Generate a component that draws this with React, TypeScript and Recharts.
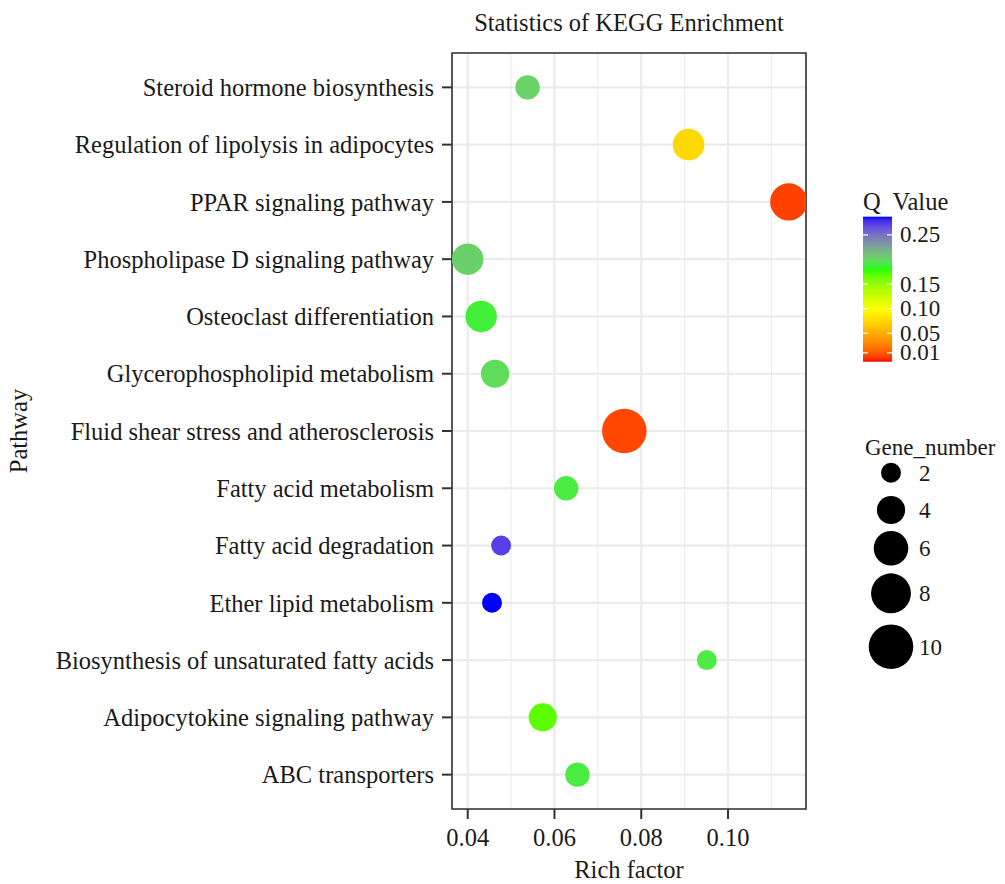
import {
    ScatterChart,
    Scatter,
    XAxis,
    YAxis,
    ZAxis,
    CartesianGrid,
    ReferenceArea,
    Cell,
} from 'recharts'

// pathways listed from the bottom row up
const pathways = [
    'ABC transporters',
    'Adipocytokine signaling pathway',
    'Biosynthesis of unsaturated fatty acids',
    'Ether lipid metabolism',
    'Fatty acid degradation',
    'Fatty acid metabolism',
    'Fluid shear stress and atherosclerosis',
    'Glycerophospholipid metabolism',
    'Osteoclast differentiation',
    'Phospholipase D signaling pathway',
    'PPAR signaling pathway',
    'Regulation of lipolysis in adipocytes',
    'Steroid hormone biosynthesis',
]
const richFactor = [0.0653, 0.0573, 0.0951, 0.0456, 0.0477, 0.0627, 0.0761, 0.0463, 0.0431, 0.04, 0.114, 0.0909, 0.0538]
const geneNumber = [3, 4, 2, 2, 2, 3, 10, 4, 5, 5, 7, 5, 3]
const qValue = [0.19, 0.169, 0.191, 0.287, 0.272, 0.19, 0.004, 0.198, 0.188, 0.204, 0.002, 0.075, 0.203]

const xTicks = [0.04, 0.06, 0.08, 0.1]
const xMinorTicks = [0.05, 0.07, 0.09, 0.11]
const xDomain: [number, number] = [0.03638, 0.11797]
const qTicks = [0.01, 0.05, 0.1, 0.15, 0.25]
const qLimits: [number, number] = [-0.008, 0.287]
const geneLegend = [2, 4, 6, 8, 10]

const rampColors = ['#FF0000', '#FFA500', '#FFFF00', '#00FF00', '#0000FF']
const rampPos = [0, 0.18, 0.36, 0.64, 1]

const FONT = '"Times New Roman", "Liberation Serif", serif'
const TEXT = '#1a1a1a'
const FS = 24.5

// colour ramp interpolated in Lab, like ggplot's gradientn
const lin = (c: number) => {
    c /= 255
    return c <= 0.04045 ? c / 12.92 : Math.pow((c + 0.055) / 1.055, 2.4)
}
const f = (t: number) => (t > 0.008856 ? Math.cbrt(t) : 7.787 * t + 16 / 116)
const finv = (t: number) => (t * t * t > 0.008856 ? t * t * t : (t - 16 / 116) / 7.787)

function toLab(hex: string) {
    const n = parseInt(hex.slice(1), 16)
    const r = lin((n >> 16) & 255), g = lin((n >> 8) & 255), b = lin(n & 255)
    const X = (0.4124 * r + 0.3576 * g + 0.1805 * b) / 0.95047
    const Y = 0.2126 * r + 0.7152 * g + 0.0722 * b
    const Z = (0.0193 * r + 0.1192 * g + 0.9505 * b) / 1.08883
    return [116 * f(Y) - 16, 500 * (f(X) - f(Y)), 200 * (f(Y) - f(Z))]
}

function fromLab([L, a, bb]: number[]) {
    const fy = (L + 16) / 116
    const X = 0.95047 * finv(fy + a / 500)
    const Y = finv(fy)
    const Z = 1.08883 * finv(fy - bb / 200)
    const rgb = [
        3.2406 * X - 1.5372 * Y - 0.4986 * Z,
        -0.9689 * X + 1.8758 * Y + 0.0415 * Z,
        0.0557 * X - 0.204 * Y + 1.057 * Z,
    ].map((c) => {
        const v = c <= 0.0031308 ? 12.92 * c : 1.055 * Math.pow(c, 1 / 2.4) - 0.055
        return Math.round(Math.min(1, Math.max(0, v)) * 255)
    })
    return '#' + rgb.map((v) => v.toString(16).padStart(2, '0')).join('')
}

function rampColor(t: number) {
    t = Math.min(1, Math.max(0, t))
    let i = 0
    while (i < rampPos.length - 2 && t > rampPos[i + 1]) i++
    const s = (t - rampPos[i]) / (rampPos[i + 1] - rampPos[i])
    const a = toLab(rampColors[i]), b = toLab(rampColors[i + 1])
    return fromLab(a.map((v, k) => v + (b[k] - v) * s))
}

const qColor = (q: number) => rampColor((q - qLimits[0]) / (qLimits[1] - qLimits[0]))

// bubble area proportional to gene count
const radiusOf = (n: number) => Math.sqrt(49.7 * n)

const points = pathways.map((name, i) => ({
    name,
    idx: i,
    rich: richFactor[i],
    genes: geneNumber[i],
    color: qColor(qValue[i]),
}))

// legend placement
const BAR = { x: 863, y: 216.7, w: 29, h: 145 }
const qToBarY = (q: number) => BAR.y + BAR.h - ((q - qLimits[0]) / (qLimits[1] - qLimits[0])) * BAR.h
const sizeLegendY = [472.7, 510, 548.3, 593.3, 646.7]

function Overlay() {
    const stops = Array.from({ length: 41 }, (_, i) => i / 40)
    return (
        <svg
            width={1005}
            height={884}
            style={{ position: 'absolute', left: 0, top: 0, pointerEvents: 'none' }}
            fontFamily={FONT}
            fill={TEXT}
        >
            <defs>
                <linearGradient id="qbar" x1="0" y1="1" x2="0" y2="0">
                    {stops.map((t) => (
                        <stop key={t} offset={t} stopColor={rampColor(t)} />
                    ))}
                </linearGradient>
            </defs>
            <text x={629} y={31} fontSize={FS} textAnchor="middle">
                Statistics of KEGG Enrichment
            </text>
            <text x={629} y={878} fontSize={FS} textAnchor="middle">
                Rich factor
            </text>
            <text x={27} y={431} fontSize={FS} textAnchor="middle" transform="rotate(-90 27 431)">
                Pathway
            </text>

            <text x={863} y={210} fontSize={FS} style={{ whiteSpace: 'pre' }}>
                Q  Value
            </text>
            <rect x={BAR.x} y={BAR.y} width={BAR.w} height={BAR.h} fill="url(#qbar)" />
            {qTicks.map((q) => (
                <g key={q}>
                    <line x1={BAR.x} x2={BAR.x + 5} y1={qToBarY(q)} y2={qToBarY(q)} stroke="#fff" strokeWidth={1.2} />
                    <line x1={BAR.x + BAR.w - 5} x2={BAR.x + BAR.w} y1={qToBarY(q)} y2={qToBarY(q)} stroke="#fff" strokeWidth={1.2} />
                    <text x={900} y={qToBarY(q)} dy="0.33em" fontSize={23}>
                        {q.toFixed(2)}
                    </text>
                </g>
            ))}

            <text x={865} y={455} fontSize={23}>
                Gene_number
            </text>
            {geneLegend.map((n, i) => (
                <g key={n}>
                    <circle cx={891} cy={sizeLegendY[i]} r={radiusOf(n)} fill="#000" />
                    <text x={919} y={sizeLegendY[i]} dy="0.35em" fontSize={23}>
                        {n}
                    </text>
                </g>
            ))}
        </svg>
    )
}

export default function App() {
    return (
        <div style={{ position: 'absolute', left: 0, top: 0, width: 1005, height: 884, background: '#fff' }}>
            <ScatterChart width={1005} height={884} margin={{ top: 53, right: 199, bottom: 0, left: 0 }}>
                <CartesianGrid horizontal={false} verticalValues={xMinorTicks} stroke="#EBEBEB" strokeWidth={1} />
                <CartesianGrid stroke="#EBEBEB" strokeWidth={2.2} />
                <XAxis
                    type="number"
                    dataKey="rich"
                    domain={xDomain}
                    allowDataOverflow
                    ticks={xTicks}
                    interval={0}
                    tickFormatter={(v: number) => v.toFixed(2)}
                    height={75}
                    axisLine={false}
                    tickSize={10}
                    tickMargin={10}
                    tickLine={{ stroke: '#333', strokeWidth: 2 }}
                    tick={{ fontSize: FS, fill: TEXT, fontFamily: FONT }}
                />
                <YAxis
                    type="number"
                    dataKey="idx"
                    domain={[-0.6, pathways.length - 0.4]}
                    allowDataOverflow
                    ticks={pathways.map((_, i) => i)}
                    interval={0}
                    tickFormatter={(v: number) => pathways[v]}
                    width={452}
                    axisLine={false}
                    tickSize={10}
                    tickMargin={8}
                    tickLine={{ stroke: '#333', strokeWidth: 2 }}
                    tick={{ fontSize: FS, fill: TEXT, fontFamily: FONT }}
                />
                <ZAxis type="number" dataKey="genes" domain={[0, 10]} range={[0, Math.PI * 497]} />
                <Scatter data={points} isAnimationActive={false}>
                    {points.map((p) => (
                        <Cell key={p.name} fill={p.color} />
                    ))}
                </Scatter>
                <ReferenceArea
                    x1={xDomain[0]}
                    x2={xDomain[1]}
                    y1={-0.6}
                    y2={pathways.length - 0.4}
                    fill="none"
                    stroke="#333"
                    strokeWidth={1.6}
                />
            </ScatterChart>
            <Overlay />
        </div>
    )
}
